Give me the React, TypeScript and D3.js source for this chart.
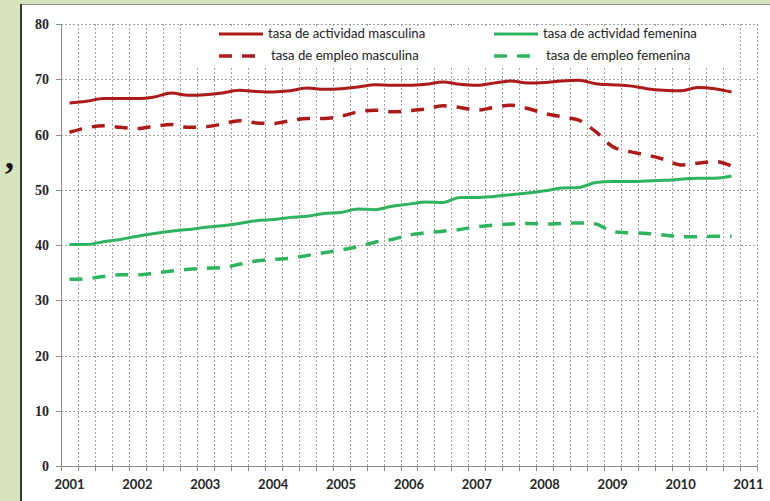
import React, { useEffect, useRef } from "react";
import * as d3 from "d3";

const years = ["2001", "2002", "2003", "2004", "2005", "2006", "2007", "2008", "2009", "2010", "2011"];
const yTicks = [0, 10, 20, 30, 40, 50, 60, 70, 80];

// quarterly values, 2001T1 .. 2010T4
const actividadMasculina = [
  65.7, 66.0, 66.5, 66.5, 66.5, 66.8, 67.5, 67.1, 67.2, 67.5, 68.0, 67.8,
  67.7, 67.9, 68.4, 68.2, 68.3, 68.6, 69.0, 68.9, 68.9, 69.1, 69.5, 69.1,
  68.9, 69.3, 69.7, 69.3, 69.4, 69.7, 69.8, 69.2, 69.0, 68.8, 68.3, 68.0,
  67.9, 68.5, 68.3, 67.7,
];
const empleoMasculina = [
  60.4, 61.2, 61.6, 61.3, 61.1, 61.5, 61.8, 61.3, 61.4, 61.9, 62.5, 62.1,
  62.0, 62.5, 62.9, 62.9, 63.3, 64.1, 64.4, 64.1, 64.3, 64.6, 65.2, 64.9,
  64.4, 64.9, 65.3, 64.7, 63.8, 63.2, 62.6, 60.5, 57.8, 56.9, 56.3, 55.5,
  54.5, 54.8, 55.1, 54.3,
];
const actividadFemenina = [
  40.1, 40.1, 40.6, 41.0, 41.6, 42.1, 42.5, 42.8, 43.2, 43.5, 43.9, 44.4,
  44.6, 45.0, 45.2, 45.7, 45.9, 46.5, 46.4, 47.0, 47.4, 47.8, 47.7, 48.6,
  48.6, 48.8, 49.1, 49.4, 49.8, 50.3, 50.4, 51.3, 51.5, 51.5, 51.6, 51.7,
  51.9, 52.1, 52.1, 52.5,
];
const empleoFemenina = [
  33.8, 33.9, 34.3, 34.6, 34.6, 34.9, 35.3, 35.6, 35.8, 35.9, 36.5, 37.1,
  37.4, 37.6, 38.1, 38.6, 39.1, 39.7, 40.5, 41.0, 41.8, 42.2, 42.5, 42.8,
  43.3, 43.6, 43.8, 43.9, 43.8, 43.9, 44.0, 43.8, 42.4, 42.2, 42.1, 41.8,
  41.5, 41.5, 41.6, 41.6,
];

const RED = "#ac1a1a";
const GREEN = "#2fb35f";

const series = [
  { name: "tasa de actividad masculina", values: actividadMasculina, color: RED, dash: null },
  { name: "tasa de empleo masculina", values: empleoMasculina, color: RED, dash: "13,10" },
  { name: "tasa de actividad femenina", values: actividadFemenina, color: GREEN, dash: null },
  { name: "tasa de empleo femenina", values: empleoFemenina, color: GREEN, dash: "13,10" },
];

function draw(element) {
  d3.select(element).selectAll("*").remove();

  const W = 770;
  const H = 501;
  const left = 61;
  const right = 757;
  const top = 24;
  const bottom = 466;

  // 41 quarterly categories, one label every 4
  const quarters = d3.range(41);
  const x = d3.scaleBand().domain(quarters).range([left, right]).padding(0);
  const cx = (i) => x(i) + x.bandwidth() / 2;
  const y = d3.scaleLinear().domain([0, 80]).range([bottom, top]);

  const svg = d3
    .select(element)
    .append("svg")
    .attr("width", W)
    .attr("height", H)
    .style("display", "block");

  svg.append("rect").attr("width", W).attr("height", H).attr("fill", "#d7e4bd");
  svg.append("rect").attr("x", 20).attr("y", 4).attr("width", W - 20).attr("height", H - 4).attr("fill", "#fff");
  svg.append("line").attr("x1", 20).attr("x2", W).attr("y1", 4.5).attr("y2", 4.5).attr("stroke", "#8c8c8c").attr("stroke-width", 1);
  svg.append("line").attr("x1", 21).attr("x2", 21).attr("y1", 4).attr("y2", H).attr("stroke", "#3a3a3a").attr("stroke-width", 2);

  svg
    .append("text")
    .attr("x", 5)
    .attr("y", 168)
    .attr("font-family", "Liberation Serif")
    .attr("font-weight", "bold")
    .attr("font-size", 36)
    .attr("fill", "#111")
    .text(",");

  const grid = svg.append("g").attr("stroke", "#a0a0a0").attr("stroke-width", 1).attr("stroke-dasharray", "2,2");

  // vertical gridlines at category boundaries
  grid
    .selectAll("line.v")
    .data(d3.range(1, 42))
    .join("line")
    .attr("x1", (i) => Math.round(left + i * x.bandwidth()) + 0.5)
    .attr("x2", (i) => Math.round(left + i * x.bandwidth()) + 0.5)
    .attr("y1", top)
    .attr("y2", bottom);

  grid
    .selectAll("line.h")
    .data(yTicks.slice(1))
    .join("line")
    .attr("x1", left)
    .attr("x2", right)
    .attr("y1", (d) => Math.round(y(d)) + 0.5)
    .attr("y2", (d) => Math.round(y(d)) + 0.5);

  // legend box hides the grid behind it
  svg.append("rect").attr("x", 188).attr("y", 26).attr("width", 547).attr("height", 42).attr("fill", "#fff");

  // axes
  const axes = svg.append("g").attr("stroke", "#8a8a8a").attr("stroke-width", 1);
  axes.append("line").attr("x1", left + 0.5).attr("x2", left + 0.5).attr("y1", top).attr("y2", bottom + 0.5);
  axes.append("line").attr("x1", left).attr("x2", right + 0.5).attr("y1", bottom + 0.5).attr("y2", bottom + 0.5);
  axes
    .selectAll("line.yt")
    .data(yTicks)
    .join("line")
    .attr("x1", left - 5)
    .attr("x2", left)
    .attr("y1", (d) => Math.round(y(d)) + 0.5)
    .attr("y2", (d) => Math.round(y(d)) + 0.5);
  axes
    .selectAll("line.xt")
    .data(d3.range(0, 42))
    .join("line")
    .attr("x1", (i) => Math.round(left + i * x.bandwidth()) + 0.5)
    .attr("x2", (i) => Math.round(left + i * x.bandwidth()) + 0.5)
    .attr("y1", bottom)
    .attr("y2", bottom + 5);

  svg
    .append("g")
    .selectAll("text")
    .data(yTicks)
    .join("text")
    .attr("x", 49)
    .attr("y", (d) => y(d) + 5)
    .attr("text-anchor", "end")
    .attr("font-family", "Liberation Serif")
    .attr("font-weight", "bold")
    .attr("font-size", 14)
    .attr("fill", "#262626")
    .text((d) => d);

  svg
    .append("g")
    .selectAll("text")
    .data(years)
    .join("text")
    .attr("x", (d, i) => cx(i * 4))
    .attr("y", 489)
    .attr("text-anchor", "middle")
    .attr("font-family", "Lato")
    .attr("font-weight", "bold")
    .attr("font-size", 13)
    .attr("fill", "#262626")
    .text((d) => d);

  const line = d3
    .line()
    .x((d, i) => cx(i))
    .y((d) => y(d))
    .curve(d3.curveMonotoneX);

  series.forEach((s) => {
    svg
      .append("path")
      .datum(s.values)
      .attr("fill", "none")
      .attr("stroke", s.color)
      .attr("stroke-width", s.dash ? 3.5 : 3)
      .attr("stroke-dasharray", s.dash)
      .attr("stroke-linejoin", "round")
      .attr("d", line);
  });

  // legend
  const legendItems = [
    { s: series[0], lx: 219, ty: 34 },
    { s: series[1], lx: 219, ty: 56 },
    { s: series[2], lx: 494, ty: 34 },
    { s: series[3], lx: 494, ty: 56 },
  ];
  const leg = svg.append("g");
  legendItems.forEach((d) => {
    leg
      .append("line")
      .attr("x1", d.lx)
      .attr("x2", d.s.dash ? d.lx + 37 : d.lx + 44)
      .attr("y1", d.ty)
      .attr("y2", d.ty)
      .attr("stroke", d.s.color)
      .attr("stroke-width", d.s.dash ? 3.5 : 3)
      .attr("stroke-dasharray", d.s.dash);
    leg
      .append("text")
      .attr("x", d.s.dash ? d.lx + 52 : d.lx + 49)
      .attr("y", d.ty + 4)
      .attr("font-family", "Lato")
      .attr("font-size", 13.2)
      .attr("fill", "#222")
      .text(d.s.name);
  });
}

export default function App() {
  const ref = useRef(null);
  useEffect(() => {
    draw(ref.current);
  }, []);
  return <div ref={ref} style={{ position: "absolute", left: 0, top: 0 }} />;
}
